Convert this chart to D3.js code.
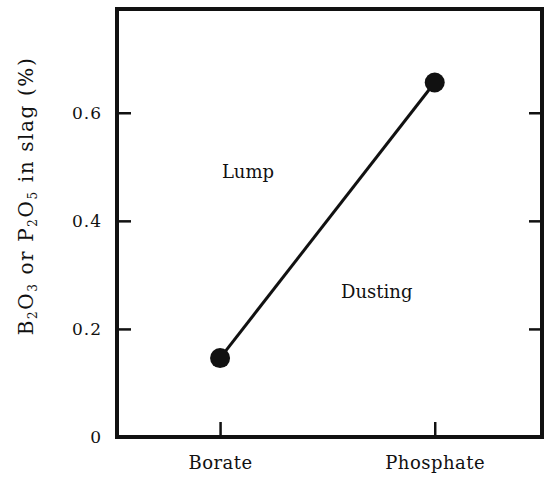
<!DOCTYPE html>
<html>
<head>
<meta charset="utf-8">
<script src="https://cdn.jsdelivr.net/npm/d3@7"></script>
<style>
  body { margin: 0; background: #fff; }
  svg text { font-family: "DejaVu Serif", "Liberation Serif", serif; fill: #111; }
</style>
</head>
<body>
<div id="chart"></div>
<script>
// data
const categories = ["Borate", "Phosphate"];
const values = [0.146, 0.656];
const yTicks = [0, 0.2, 0.4, 0.6];
const yMax = 0.792;
const regionLabels = [
  { text: "Lump", cat: 0.13, val: 0.48 },
  { text: "Dusting", cat: 0.73, val: 0.258 }
];

const W = 548, H = 478;
const margin = { top: 9, right: 6, bottom: 41, left: 117 };
const width = W - margin.left - margin.right,
      height = H - margin.top - margin.bottom;

const svg = d3.select("#chart").append("svg")
  .attr("width", W).attr("height", H);

const g = svg.append("g")
  .attr("transform", `translate(${margin.left},${margin.top})`);

const x = d3.scalePoint().domain(categories).range([0, width]).padding(0.49).align(0.49);
const y = d3.scaleLinear().domain([0, yMax]).range([height, 0]);

// left axis, ticks pointing inward
const yAxis = g.append("g")
  .call(d3.axisLeft(y).tickValues(yTicks).tickSizeInner(-14).tickSizeOuter(0)
    .tickPadding(15).tickFormat(d => d === 0 ? "0" : d3.format(".1f")(d)));
yAxis.select(".domain").remove();
yAxis.selectAll(".tick line").attr("stroke", "#111").attr("stroke-width", 2.5);
yAxis.selectAll(".tick text").style("font-size", "17px").style("letter-spacing", "1px");

// right side ticks
const yAxisR = g.append("g")
  .attr("transform", `translate(${width},0)`)
  .call(d3.axisRight(y).tickValues(yTicks.filter(d => d > 0)).tickSizeInner(-13).tickSizeOuter(0).tickFormat(""));
yAxisR.select(".domain").remove();
yAxisR.selectAll(".tick line").attr("stroke", "#111").attr("stroke-width", 2.5);

// bottom axis
const xAxis = g.append("g")
  .attr("transform", `translate(0,${height})`)
  .call(d3.axisBottom(x).tickSizeInner(-15).tickSizeOuter(0).tickPadding(19));
xAxis.select(".domain").remove();
xAxis.selectAll(".tick line").attr("stroke", "#111").attr("stroke-width", 2.5);
xAxis.selectAll(".tick text").style("font-size", "18px").style("letter-spacing", "0.5px");

// frame
g.append("rect")
  .attr("width", width).attr("height", height)
  .attr("fill", "none").attr("stroke", "#111").attr("stroke-width", 4);

// line + points
const pts = categories.map((c, i) => ({ c, v: values[i] }));
g.append("path")
  .datum(pts)
  .attr("fill", "none").attr("stroke", "#111").attr("stroke-width", 3)
  .attr("d", d3.line().x(d => x(d.c)).y(d => y(d.v)));

g.selectAll("circle.pt").data(pts).enter().append("circle")
  .attr("class", "pt")
  .attr("cx", d => x(d.c)).attr("cy", d => y(d.v))
  .attr("r", 10).attr("fill", "#111");

// region labels (positions along the category axis as fractions)
const xc = d3.scaleLinear().domain([0, 1]).range([x(categories[0]), x(categories[1])]);
g.selectAll("text.region").data(regionLabels).enter().append("text")
  .attr("class", "region")
  .attr("x", d => xc(d.cat)).attr("y", d => y(d.val))
  .attr("text-anchor", "middle")
  .style("font-size", "18px")
  .text(d => d.text);

// y axis title with subscripts
const yt = svg.append("text")
  .attr("transform", `translate(33,196) rotate(-90)`)
  .attr("text-anchor", "middle")
  .style("font-size", "20px")
  .style("letter-spacing", "1.6px");
const parts = [["B", 0], ["2", 1], ["O", 0], ["3", 1], [" or P", 0], ["2", 1], ["O", 0], ["5", 1], [" in slag (%)", 0]];
let shifted = false;
parts.forEach(([t, sub]) => {
  const ts = yt.append("tspan").text(t);
  if (sub) {
    ts.attr("dy", "4").style("font-size", "12px");
    shifted = true;
  } else if (shifted) {
    ts.attr("dy", "-4");
    shifted = false;
  }
});
</script>
</body>
</html>
